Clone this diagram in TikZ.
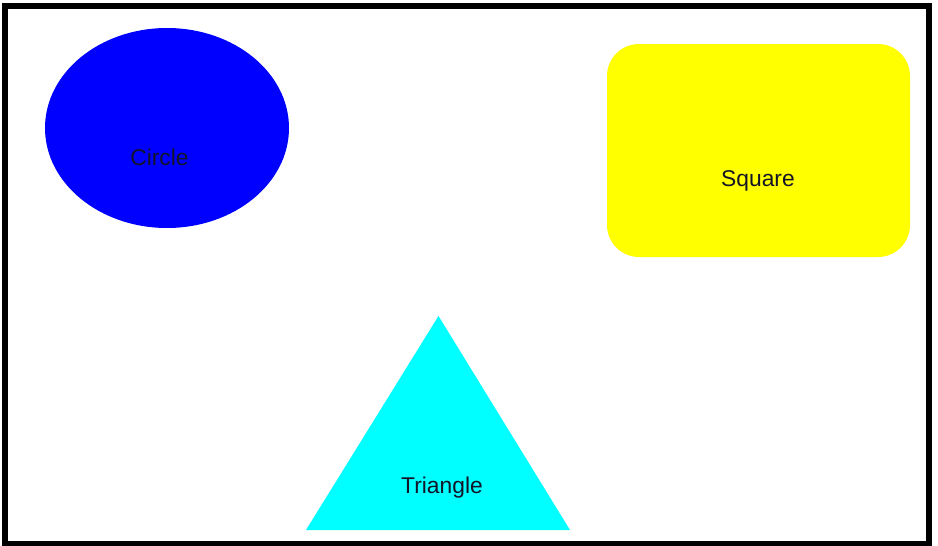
\documentclass[tikz,border=0pt]{standalone}
\usepackage{fontspec}
\setmainfont{Liberation Sans}
\definecolor{shpblue}{RGB}{0,0,255}
\definecolor{shpyellow}{RGB}{255,255,0}
\definecolor{shpcyan}{RGB}{0,255,255}
\definecolor{lbltext}{RGB}{20,20,40}
\begin{document}
\begin{tikzpicture}[x=1pt,y=-1pt,
  lbl/.style={font=\fontsize{22.8}{26}\selectfont, text=lbltext, inner sep=0pt, anchor=center}]
\useasboundingbox (0,0) rectangle (938,546);
\fill[white] (0,0) rectangle (938,546);
% frame
\draw[line width=6pt, black] (5,5.5) rectangle (929,543.5);
% circle (ellipse)
\fill[shpblue] (167,128) ellipse [x radius=122, y radius=100];
\node[lbl] (circlelbl) at (159.5,157) {Circle};
% rounded rectangle
\fill[shpyellow, rounded corners=32pt] (607,44) rectangle (910,257);
\node[lbl] (squarelbl) at (758,180.5) {Square};
% triangle
\fill[shpcyan] (438.5,316) -- (570,530) -- (306,530) -- cycle;
\node[lbl] (trianglelbl) at (442,487.5) {Triangle};
\end{tikzpicture}
\end{document}
